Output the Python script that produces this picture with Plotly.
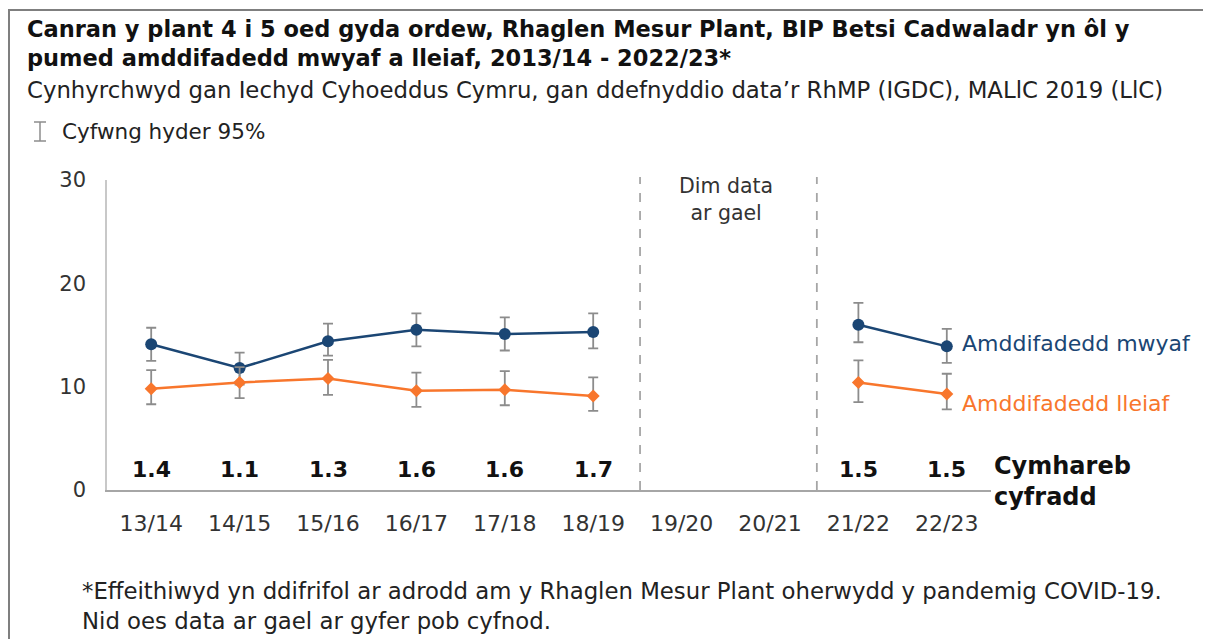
import plotly.graph_objects as go

# ─────────────────────────────────────────────
# DATA
# ─────────────────────────────────────────────
years = ["13/14", "14/15", "15/16", "16/17", "17/18", "18/19", "19/20", "20/21", "21/22", "22/23"]

most_val   = [14.1, 11.8, 14.4, 15.5, 15.1, 15.3, None, None, 16.0, 13.9]
most_upper = [15.7, 13.3, 16.1, 17.1, 16.7, 17.1, None, None, 18.1, 15.6]
most_lower = [12.5, 10.2, 13.0, 13.9, 13.5, 13.7, None, None, 14.3, 12.3]

least_val   = [9.8, 10.4, 10.8, 9.6, 9.7, 9.1, None, None, 10.4, 9.3]
least_upper = [11.6, 11.9, 12.6, 11.35, 11.5, 10.9, None, None, 12.55, 11.25]
least_lower = [8.3, 8.9, 9.2, 8.05, 8.2, 7.65, None, None, 8.5, 7.8]

ratios = ["1.4", "1.1", "1.3", "1.6", "1.6", "1.7", "", "", "1.5", "1.5"]

TITLE = ("Canran y plant 4 i 5 oed gyda ordew, Rhaglen Mesur Plant, BIP Betsi Cadwaladr yn ôl y<br>"
         "pumed amddifadedd mwyaf a lleiaf, 2013/14 - 2022/23*")
SUBTITLE = "Cynhyrchwyd gan Iechyd Cyhoeddus Cymru, gan ddefnyddio data’r RhMP (IGDC), MALlC 2019 (LlC)"
FOOTNOTE = ("*Effeithiwyd yn ddifrifol ar adrodd am y Rhaglen Mesur Plant oherwydd y pandemig COVID-19.<br>"
            "Nid oes data ar gael ar gyfer pob cyfnod.")

BLUE = "#1B4674"
ORANGE = "#F8762C"
GREY = "#8C8C8C"
FONT = "DejaVu Sans"

# window size and the 8px body margin of the page
WIN_W, WIN_H, OFF = 1211, 639, 8
W, H = WIN_W - OFF, WIN_H - OFF
# plot area in window pixels
L, R, T, B = 107, 991, 180, 490


def px(p):
    return (p - L) / (R - L)


def py(q):
    return (B - q) / (B - T)


def err(vals, up, lo):
    plus = [None if v is None else u - v for v, u in zip(vals, up)]
    minus = [None if v is None else v - l for v, l in zip(vals, lo)]
    return plus, minus


xi = list(range(len(years)))
fig = go.Figure()

for vals, up, lo, col, sym, size in [
    (most_val, most_upper, most_lower, BLUE, "circle", 12),
    (least_val, least_upper, least_lower, ORANGE, "diamond", 10),
]:
    plus, minus = err(vals, up, lo)
    fig.add_trace(go.Scatter(
        x=xi, y=vals, mode="lines+markers",
        line=dict(color=col, width=2.5),
        marker=dict(color=col, size=size, symbol=sym),
        error_y=dict(type="data", symmetric=False, array=plus, arrayminus=minus,
                     color=GREY, thickness=1.8, width=5),
        connectgaps=False, showlegend=False, hoverinfo="skip",
    ))

# dashed separators around the missing years
for xv in [5.53, 7.53]:
    fig.add_shape(type="line", xref="x", yref="paper", x0=xv, x1=xv, y0=0, y1=1.01,
                  line=dict(color="#A6A6A6", width=1.8, dash="dash"))


def note(x, y, text, size, color="#222222", xref="paper", xanchor="left", align="left"):
    return dict(x=x, y=y, xref=xref, yref="paper", xanchor=xanchor, yanchor="middle",
                text=text, align=align, showarrow=False,
                font=dict(size=size, color=color, family=FONT))


ann = []
for i, r in enumerate(ratios):
    if r:
        ann.append(note(i, py(469), f"<b>{r}</b>", 22, "#111111", xref="x", xanchor="center"))

ann += [
    note(px(992), py(481), "<b>Cymhareb<br>cyfradd</b>", 24, "#111111"),
    note(6.5, py(199), "Dim data<br>ar gael", 20.5, "#333333", xref="x", xanchor="center", align="center"),
    note(px(960), py(343), "Amddifadedd mwyaf", 22, BLUE),
    note(px(960), py(403), "Amddifadedd lleiaf", 22, ORANGE),
    note(px(25), py(43), f"<b>{TITLE}</b>", 22.5, "#111111"),
    note(px(25), py(90), SUBTITLE, 22.8),
    note(px(60), py(131), "Cyfwng hyder 95%", 21.5),
    note(px(80), py(606), FOOTNOTE, 22.8),
]

# confidence-interval key icon
for x0, y0, x1, y1 in [(40, 122, 40, 141), (34, 122, 46, 122), (34, 141, 46, 141)]:
    fig.add_shape(type="line", xref="paper", yref="paper", x0=px(x0), y0=py(y0), x1=px(x1), y1=py(y1),
                  line=dict(color=GREY, width=1.5))

# outer frame (top and left edges)
fig.add_shape(type="line", xref="paper", yref="paper", x0=px(8), y0=py(10), x1=px(WIN_W), y1=py(10),
              line=dict(color="#7F7F7F", width=2))
fig.add_shape(type="line", xref="paper", yref="paper", x0=px(9), y0=py(10), x1=px(9), y1=py(WIN_H),
              line=dict(color="#7F7F7F", width=2))

fig.update_layout(
    width=W, height=H,
    margin=dict(l=L - OFF, r=W - (R - OFF), t=T - OFF, b=H - (B - OFF)),
    plot_bgcolor="white", paper_bgcolor="white",
    font=dict(family=FONT, color="#333333"),
    annotations=ann,
    xaxis=dict(tickmode="array", tickvals=xi, ticktext=years, range=[-0.5, 9.5],
               showgrid=False, zeroline=False, showline=True, linecolor="#A6A6A6", linewidth=1.5,
               ticks="", ticklabelstandoff=13, tickfont=dict(size=22, color="#333333")),
    yaxis=dict(range=[0, 30], tickvals=[0, 10, 20, 30], showgrid=False, zeroline=False,
               showline=True, linecolor="#C8C8C8", linewidth=1.5,
               ticks="", ticklabelstandoff=15, tickfont=dict(size=21, color="#333333")),
)

fig.write_html("out.html")
